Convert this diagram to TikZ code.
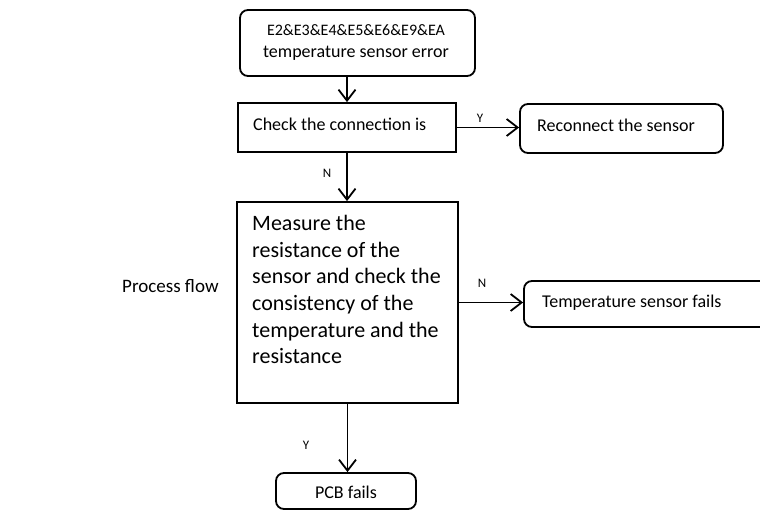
\documentclass[tikz,border=0pt]{standalone}
\usepackage{fontspec}
\setmainfont{Carlito}
\usetikzlibrary{arrows.meta}
\begin{document}
\begin{tikzpicture}[x=1pt,y=-1pt,
  box/.style={draw, line width=1.8pt, inner sep=0pt},
  rbox/.style={box, rounded corners=8pt},
  arr/.style={line width=1.8pt, -{Straight Barb[length=11pt,width=17pt]}},
  txt/.style={inner sep=0pt, font=\fontsize{18}{21.5}\selectfont},
  big/.style={inner sep=0pt, font=\fontsize{22}{26.7}\selectfont, align=left},
  lbl/.style={inner sep=0pt, font=\fontsize{13}{15}\selectfont}]
\useasboundingbox (0,0) rectangle (760,511);
% boxes
\node[rbox, minimum width=235pt, minimum height=66pt] (top) at (357.5,43) {};
\node[box, minimum width=218pt, minimum height=49pt] (chk) at (347,127.5) {};
\node[rbox, minimum width=203pt, minimum height=49pt] (rec) at (621.5,128.5) {};
\node[box, minimum width=221pt, minimum height=201pt] (meas) at (347.5,302.5) {};
\node[rbox, minimum width=252pt, minimum height=46pt] (tmp) at (650,304) {};
\node[rbox, minimum width=140pt, minimum height=36pt] (pcb) at (346,491) {};
% texts
\node[txt, align=center] (toptext) at (356,42.5) {{\fontsize{16}{21.5}\selectfont E2\&E3\&E4\&E5\&E6\&E9\&EA}\\temperature sensor error};
\node[txt, anchor=west] (chktext) at (253,124) {Check the connection is};
\node[txt, anchor=west] (rectext) at (537,125.5) {Reconnect the sensor};
\node[big, anchor=north west] (meastext) at (252,215) {Measure the\\resistance of the\\sensor and check the\\consistency of the\\temperature and the\\resistance};
\node[txt, anchor=west] (tmptext) at (542,303) {Temperature sensor fails};
\node[txt] (pcbtext) at (346,492) {PCB fails};
\node[txt, anchor=west, font=\fontsize{19}{22}\selectfont] (proc) at (122,286) {Process flow};
% connectors
\draw[arr] (top.south -| chk.north) -- (chk.north);
\draw[arr] (chk.east) -- (chk.east -| rec.west);
\draw[arr] (chk.south) -- (chk.south |- meas.north);
\draw[arr] (meas.east) -- (meas.east -| tmp.west);
\draw[arr] (meas.south) -- (meas.south |- pcb.north);
% labels
\node[lbl] (ly1) at (480,118) {Y};
\node[lbl] (ln1) at (327,173) {N};
\node[lbl] (ln2) at (482,283) {N};
\node[lbl] (ly2) at (306,445) {Y};
\end{tikzpicture}
\end{document}
